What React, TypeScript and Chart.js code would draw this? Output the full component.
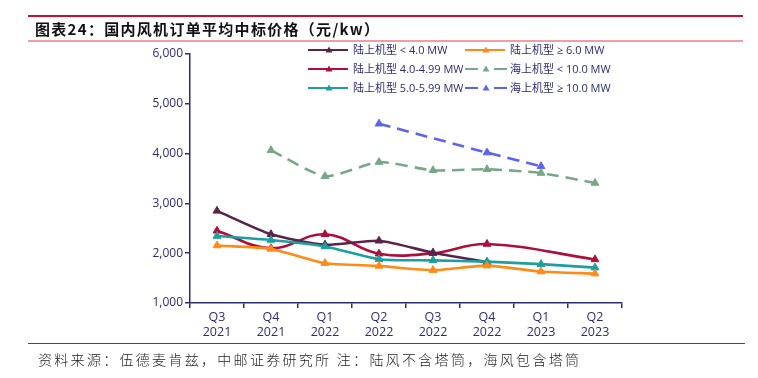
import React, { useEffect, useRef } from "react";
import { Chart, registerables } from "chart.js";

Chart.register(...registerables);

const categories: string[][] = [
  ["Q3", "2021"], ["Q4", "2021"], ["Q1", "2022"], ["Q2", "2022"],
  ["Q3", "2022"], ["Q4", "2022"], ["Q1", "2023"], ["Q2", "2023"],
];

const seriesNames = [
  "陆上机型 < 4.0 MW",
  "陆上机型 4.0-4.99 MW",
  "陆上机型 5.0-5.99 MW",
  "陆上机型 ≥ 6.0 MW",
  "海上机型 < 10.0 MW",
  "海上机型 ≥ 10.0 MW",
];

const onshoreBelow4: (number | null)[] = [2850, 2380, 2170, 2250, 2010, 1820, null, null];
const onshore4to5: (number | null)[] = [2450, 2100, 2380, 1990, 2000, 2185, null, 1875];
const onshore5to6: (number | null)[] = [2345, 2265, 2135, 1880, 1855, 1830, 1780, 1710];
const onshoreAbove6: (number | null)[] = [2155, 2085, 1800, 1745, 1660, 1750, 1632, 1590];
const offshoreBelow10: (number | null)[] = [null, 4065, 3545, 3830, 3665, 3685, 3610, 3410];
const offshoreAbove10: (number | null)[] = [null, null, null, 4600, null, 4020, 3745, null];

const yTicks = { min: 1000, max: 6000, step: 1000 };

const colors = ["#5a2349", "#ad0f3b", "#1c9fa1", "#ff8a16", "#76a887", "#5b63f0"];
const NAVY = "#2c2c72";

const legendPlugin = {
  id: "customLegend",
  afterDraw(chart: any) {
    const ctx = chart.ctx;
    const items = [
      { i: 0, x: 308, y: 50 },
      { i: 3, x: 465, y: 50 },
      { i: 1, x: 308, y: 69 },
      { i: 4, x: 465, y: 69 },
      { i: 2, x: 308, y: 88 },
      { i: 5, x: 465, y: 88 },
    ];
    ctx.save();
    items.forEach(({ i, x, y }) => {
      const color = colors[i];
      const dashed = i >= 4;
      ctx.strokeStyle = color;
      ctx.fillStyle = color;
      ctx.lineWidth = 2.2;
      ctx.beginPath();
      if (dashed) {
        ctx.moveTo(x, y); ctx.lineTo(x + 13, y);
        ctx.moveTo(x + 29, y); ctx.lineTo(x + 42, y);
      } else {
        ctx.moveTo(x, y); ctx.lineTo(x + 40, y);
      }
      ctx.stroke();
      const cx = x + 21;
      ctx.beginPath();
      ctx.moveTo(cx, y - 3.5);
      ctx.lineTo(cx + 3.5, y + 2.5);
      ctx.lineTo(cx - 3.5, y + 2.5);
      ctx.closePath();
      ctx.fill();
      ctx.fillStyle = NAVY;
      ctx.font = "11px 'Open Sans', 'Noto Sans CJK SC', sans-serif";
      ctx.textBaseline = "middle";
      ctx.textAlign = "left";
      ctx.fillText(seriesNames[i], x + 45, y + 0.5);
    });
    ctx.restore();
  },
};

export default function App() {
  const canvasRef = useRef<HTMLCanvasElement | null>(null);

  useEffect(() => {
    if (!canvasRef.current) return;
    const allData = [onshoreBelow4, onshore4to5, onshore5to6, onshoreAbove6, offshoreBelow10, offshoreAbove10];
    const order = [4, 5, 3, 2, 0, 1];
    const datasets = order.map((i) => ({
      label: seriesNames[i],
      data: allData[i],
      borderColor: colors[i],
      backgroundColor: colors[i],
      borderWidth: 2.6,
      borderDash: i >= 4 ? [12, 7] : [],
      pointStyle: "triangle" as const,
      pointRadius: 4.5,
      pointBorderWidth: 1,
      tension: i === 1 ? 0.4 : 0.2,
      spanGaps: true,
      fill: false,
    }));
    const chart = new Chart(canvasRef.current, {
      type: "line",
      data: { labels: categories, datasets },
      plugins: [legendPlugin],
      options: {
        animation: false,
        responsive: false,
        layout: { padding: { left: 130, top: 54, right: 136, bottom: 0 } },
        plugins: { legend: { display: false }, tooltip: { enabled: false } },
        scales: {
          x: {
            offset: true,
            grid: { display: true, drawOnChartArea: false, drawTicks: true, tickLength: 5, color: NAVY, offset: true, lineWidth: 1.5 },
            border: { display: true, color: NAVY, width: 1.5 },
            ticks: {
              color: NAVY,
              font: { family: "'Open Sans', sans-serif", size: 12.5, weight: 500 as any, lineHeight: 1.2 },
              padding: 2,
              maxRotation: 0,
              autoSkip: false,
            },
            afterFit: (s: any) => { s.height = 75; },
          },
          y: {
            min: yTicks.min,
            max: yTicks.max,
            grid: { display: true, drawOnChartArea: false, drawTicks: true, tickLength: 5, color: NAVY, lineWidth: 1.5 },
            border: { display: true, color: NAVY, width: 1.5 },
            ticks: {
              stepSize: yTicks.step,
              color: NAVY,
              font: { family: "'Open Sans', sans-serif", size: 12, weight: 500 as any },
              padding: 2,
              callback: (v: any) => Number(v).toLocaleString("en-US"),
            },
            afterFit: (s: any) => { s.width = 60; },
          },
        },
      },
    });
    return () => chart.destroy();
  }, []);

  return (
    <div style={{ position: "absolute", left: 0, top: 0, width: 758, height: 378, background: "#fff", overflow: "hidden" }}>
      <canvas ref={canvasRef} width={758} height={378} style={{ position: "absolute", left: 0, top: 0 }} />
      <div style={{ position: "absolute", left: 28, top: 15, width: 715, height: 2, background: "#c8102e" }} />
      <div style={{ position: "absolute", left: 28, top: 40, width: 715, height: 2, background: "#eba0a8" }} />
      <div style={{ position: "absolute", left: 35, top: 19, fontFamily: "'Noto Sans CJK SC', sans-serif", fontWeight: 700, fontSize: 15, letterSpacing: 1.3, color: "#111", lineHeight: "20px", whiteSpace: "nowrap" }}>
        图表24：国内风机订单平均中标价格（元/kw）
      </div>
      <div style={{ position: "absolute", left: 28, top: 343, width: 717, height: 1, background: "#c8102e" }} />
      <div style={{ position: "absolute", left: 38, top: 349, fontFamily: "'Noto Sans CJK SC', sans-serif", fontWeight: 300, fontSize: 14, letterSpacing: 2.3, color: "#222", lineHeight: "20px", whiteSpace: "nowrap" }}>
        资料来源：伍德麦肯兹，中邮证券研究所 注：陆风不含塔筒，海风包含塔筒
      </div>
    </div>
  );
}
